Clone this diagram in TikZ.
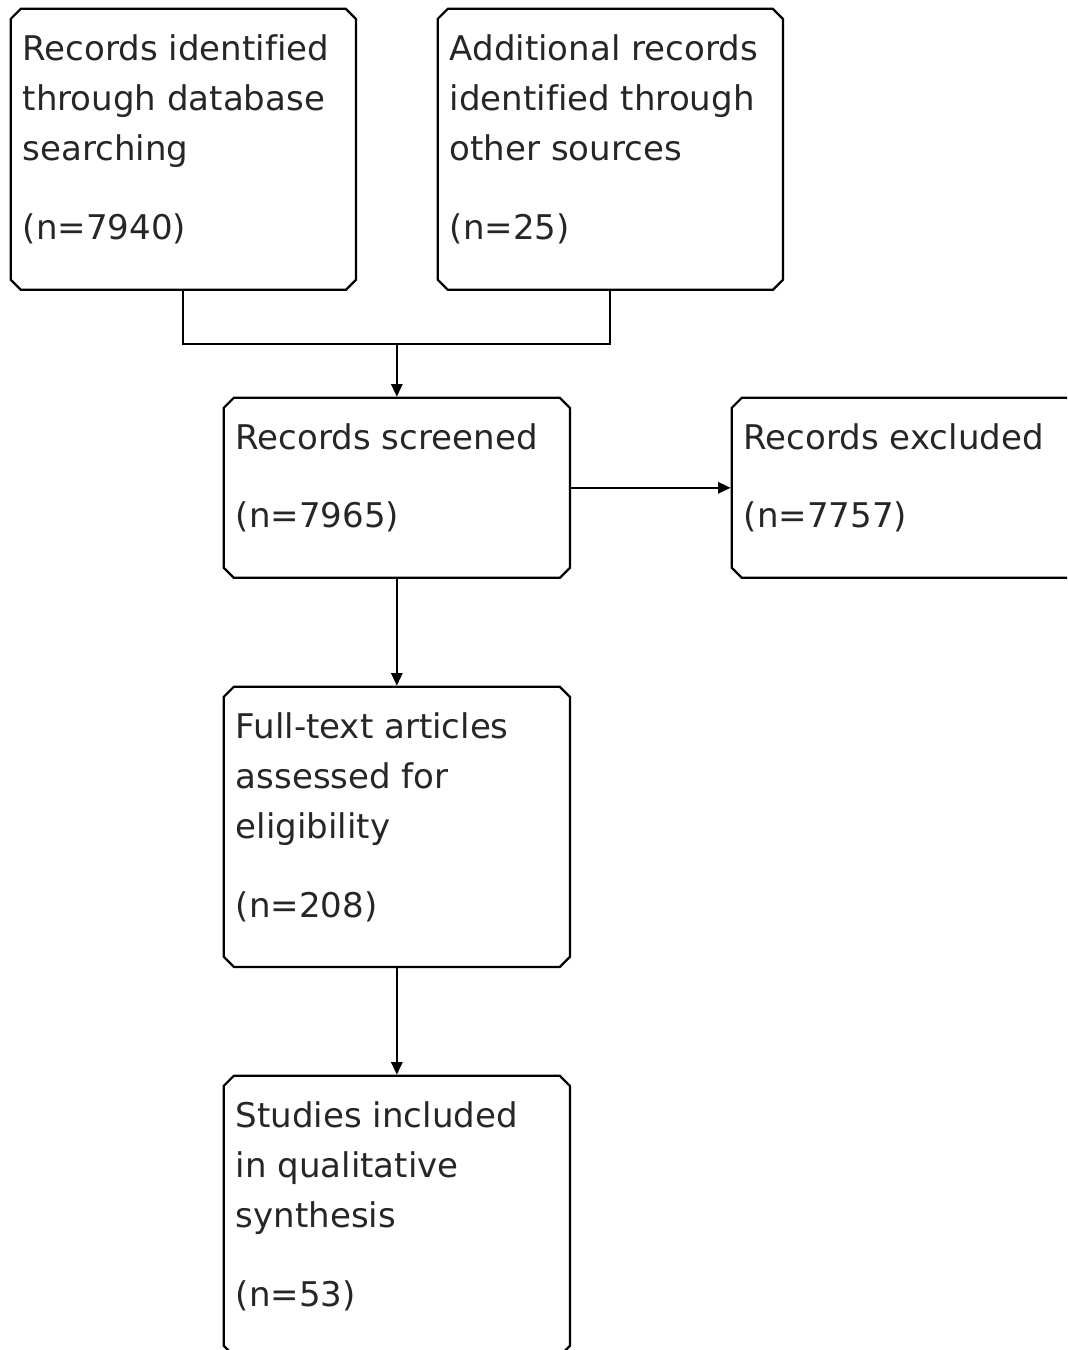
\documentclass[tikz,border=0pt]{standalone}
\usepackage{fontspec}
\setmainfont[Ligatures=NoCommon]{DejaVu Sans}
\usetikzlibrary{arrows.meta,shapes.misc}
\tikzset{>={Triangle[length=9pt,width=8pt]}}
\tikzset{
	flowbox/.style={draw, chamfered rectangle, chamfered rectangle xsep=0.125cm,
		chamfered rectangle ysep=0.125cm, inner sep=0pt, line width=1.6pt,
		anchor=north west, font=\fontsize{24.2pt}{35.6pt}\selectfont, text=black!85},
	link/.style={line width=1.6pt}
}
% full box width, full box height, text
\newcommand{\boxtext}[3]{\parbox[c][\dimexpr#2-0.25cm][t]{\dimexpr#1-0.25cm}{\raggedright\leftskip=0.175cm\rule{0pt}{1.175cm}#3}}

\begin{document}
\begin{tikzpicture}[x=0.025cm, y=-0.025cm]
		\clip (0,0) rectangle (1067,1350);
		\node[flowbox] (ident) at (15,13) {\boxtext{8.625cm}{7.025cm}{Records identified\\through database\\searching\\[0.7cm](n=7940)}};
		\node[flowbox] (other) at (442,13) {\boxtext{8.625cm}{7.025cm}{Additional records\\identified through\\other sources\\[0.7cm](n=25)}};
		\node[flowbox] (screen) at (228,402) {\boxtext{8.65cm}{4.5cm}{Records screened\\[0.7cm](n=7965)}};
		\node[flowbox] (excl) at (736,402) {\boxtext{8.65cm}{4.5cm}{Records excluded\\[0.7cm](n=7757)}};
		\node[flowbox] (full) at (228,691) {\boxtext{8.65cm}{7cm}{Full-text articles\\assessed for\\eligibility\\[0.7cm](n=208)}};
		\node[flowbox] (incl) at (228,1080) {\boxtext{8.65cm}{7cm}{Studies included\\in qualitative\\synthesis\\[0.7cm](n=53)}};
		\coordinate (merge) at (screen.north |- 0,344);
		\draw[link] (ident.south) |- (merge) -| (other.south);
		\draw[link,->] (merge) -- (screen.north);
		\draw[link,->] (screen.east) -- (excl.west);
		\draw[link,->] (screen.south) -- (full.north);
		\draw[link,->] (full.south) -- (incl.north);
\end{tikzpicture}
\end{document}
